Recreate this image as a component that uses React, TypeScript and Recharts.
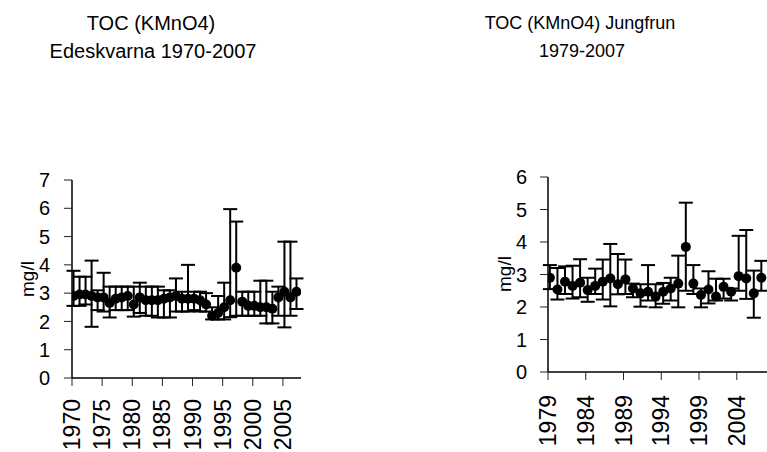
import React from 'react';
import { ScatterChart, Scatter, XAxis, YAxis, ErrorBar } from 'recharts';

const FONT = '"Liberation Sans", Arial, sans-serif';

// Left chart: Edeskvarna 1970-2007
const leftYears = [
  1970, 1971, 1972, 1973, 1974, 1975, 1976, 1977, 1978, 1979,
  1980, 1981, 1982, 1983, 1984, 1985, 1986, 1987, 1988, 1989,
  1990, 1991, 1992, 1993, 1994, 1995, 1996, 1997, 1998, 1999,
  2000, 2001, 2002, 2003, 2004, 2005, 2006, 2007,
];
const leftMean = [
  2.9, 2.95, 2.95, 2.9, 2.85, 2.85, 2.65, 2.8, 2.85, 2.9,
  2.6, 2.85, 2.75, 2.75, 2.75, 2.8, 2.85, 2.9, 2.8, 2.8,
  2.8, 2.75, 2.6, 2.2, 2.3, 2.5, 2.75, 3.9, 2.7, 2.55,
  2.55, 2.5, 2.5, 2.45, 2.85, 3.05, 2.85, 3.05,
];
const leftLow = [
  2.55, 2.55, 2.6, 1.81, 2.4, 2.35, 2.14, 2.4, 2.4, 2.4,
  2.17, 2.3, 2.2, 2.2, 2.14, 2.14, 2.14, 2.35, 2.35, 2.35,
  2.4, 2.35, 2.35, 2.07, 2.07, 2.07, 2.15, 2.2, 2.2, 2.2,
  2.2, 2.2, 1.93, 1.93, 2.2, 1.79, 2.2, 2.44,
];
const leftHigh = [
  3.79, 3.58, 3.58, 4.15, 3.1, 3.72, 3.23, 3.23, 3.23, 3.23,
  3.23, 3.37, 3.23, 3.23, 3.23, 3.1, 3.1, 3.52, 3.05, 4.0,
  3.05, 3.05, 3.0, 2.5, 2.9, 3.37, 5.97, 5.53, 3.05, 3.05,
  3.05, 3.44, 3.44, 3.05, 3.23, 4.82, 4.82, 3.52,
];
const leftXTicks = [1970, 1975, 1980, 1985, 1990, 1995, 2000, 2005];
const leftYTicks = [0, 1, 2, 3, 4, 5, 6, 7];

// Right chart: Jungfrun 1979-2007
const rightYears = [
  1979, 1980, 1981, 1982, 1983, 1984, 1985, 1986, 1987, 1988,
  1989, 1990, 1991, 1992, 1993, 1994, 1995, 1996, 1997, 1998,
  1999, 2000, 2001, 2002, 2003, 2004, 2005, 2006, 2007,
];
const rightMean = [
  2.9, 2.54, 2.78, 2.65, 2.75, 2.52, 2.65, 2.78, 2.88, 2.7,
  2.85, 2.57, 2.42, 2.47, 2.32, 2.47, 2.57, 2.72, 3.85, 2.72,
  2.37, 2.54, 2.32, 2.62, 2.47, 2.95, 2.88, 2.42, 2.9,
];
const rightLow = [
  2.55, 2.23, 2.4, 2.26, 2.3, 2.16, 2.4, 2.23, 2.02, 2.39,
  2.4, 2.3, 2.01, 2.2, 1.99, 2.1, 2.2, 1.99, 2.5, 2.4,
  1.99, 2.11, 2.2, 2.26, 2.2, 2.5, 2.25, 1.67, 2.5,
];
const rightHigh = [
  3.29, 3.2, 3.25, 3.27, 3.47, 2.9, 3.18, 3.46, 3.94, 3.63,
  3.46, 2.72, 2.7, 3.29, 2.7, 2.74, 2.9, 3.58, 5.21, 3.29,
  2.57, 3.1, 2.87, 2.87, 2.57, 4.19, 4.37, 3.12, 3.42,
];
const rightXTicks = [1979, 1984, 1989, 1994, 1999, 2004];
const rightYTicks = [0, 1, 2, 3, 4, 5, 6];

const buildRows = (years: number[], mean: number[], low: number[], high: number[]) =>
  years.map((yr, i) => ({
    x: yr + 0.25,
    y: mean[i],
    err: [mean[i] - low[i], high[i] - mean[i]],
  }));

const leftRows = buildRows(leftYears, leftMean, leftLow, leftHigh);
const rightRows = buildRows(rightYears, rightMean, rightLow, rightHigh);

const Dot = (props: any) => <circle cx={props.cx} cy={props.cy} r={5} fill="#000" />;

const XTick = (props: any) => {
  const { x, y, payload } = props;
  return (
    <text
      x={0}
      y={0}
      transform={`translate(${x},${y}) rotate(-90)`}
      textAnchor="end"
      dominantBaseline="central"
      fontSize={23}
      fontFamily={FONT}
      fill="#000"
    >
      {payload.value}
    </text>
  );
};

const axisLine = { stroke: '#000', strokeWidth: 1.5 };
const tickLine = { stroke: '#222', strokeWidth: 1 };
const yTickStyle = { fontSize: 20, fill: '#000', fontFamily: FONT };

const Title = ({ text, cx, cy, size }: { text: string; cx: number; cy: number; size: number }) => (
  <div
    style={{
      position: 'absolute',
      left: cx - 200,
      top: cy - 12,
      width: 400,
      textAlign: 'center',
      fontFamily: FONT,
      fontSize: size,
      lineHeight: '24px',
      color: '#000',
      whiteSpace: 'nowrap',
    }}
  >
    {text}
  </div>
);

const YLabel = ({ cx, cy }: { cx: number; cy: number }) => (
  <div
    style={{
      position: 'absolute',
      left: cx - 40,
      top: cy - 11,
      width: 80,
      lineHeight: '22px',
      textAlign: 'center',
      fontFamily: FONT,
      fontSize: 19,
      color: '#000',
      transform: 'rotate(-90deg)',
    }}
  >
    mg/l
  </div>
);

export default function App() {
  return (
    <div
      style={{
        position: 'absolute',
        left: 0,
        top: 0,
        width: 767,
        height: 452,
        overflow: 'hidden',
        background: '#fff',
      }}
    >
      <Title text="TOC (KMnO4)" cx={151} cy={23} size={20} />
      <Title text="Edeskvarna 1970-2007" cx={153} cy={51} size={20} />
      <Title text="TOC (KMnO4) Jungfrun" cx={580} cy={23} size={18} />
      <Title text="1979-2007" cx={582} cy={51} size={18} />

      <div style={{ position: 'absolute', left: 0, top: 0 }}>
        <ScatterChart width={320} height={452} margin={{ top: 180, right: 19, bottom: 0, left: 0 }}>
          <XAxis
            type="number"
            dataKey="x"
            domain={[1970, 2008]}
            ticks={leftXTicks}
            allowDataOverflow
            height={74}
            tickSize={8}
            tickMargin={13}
            axisLine={axisLine}
            tickLine={tickLine}
            tick={<XTick />}
            interval={0}
          />
          <YAxis
            type="number"
            dataKey="y"
            domain={[0, 7]}
            ticks={leftYTicks}
            allowDataOverflow
            width={72}
            tickSize={8}
            tickMargin={14}
            axisLine={axisLine}
            tickLine={tickLine}
            tick={yTickStyle}
            interval={0}
          />
          <Scatter data={leftRows} dataKey="y" shape={<Dot />} isAnimationActive={false}>
            <ErrorBar dataKey="err" direction="y" width={7} stroke="#000" strokeWidth={2} />
          </Scatter>
        </ScatterChart>
      </div>

      <div style={{ position: 'absolute', left: 461, top: 0 }}>
        <ScatterChart width={306} height={452} margin={{ top: 177, right: 0, bottom: 0, left: 0 }}>
          <XAxis
            type="number"
            dataKey="x"
            domain={[1979, 2008]}
            ticks={rightXTicks}
            allowDataOverflow
            height={80}
            tickSize={8}
            tickMargin={15}
            axisLine={axisLine}
            tickLine={tickLine}
            tick={<XTick />}
            interval={0}
          />
          <YAxis
            type="number"
            dataKey="y"
            domain={[0, 6]}
            ticks={rightYTicks}
            allowDataOverflow
            width={87}
            tickSize={8}
            tickMargin={13}
            axisLine={axisLine}
            tickLine={tickLine}
            tick={yTickStyle}
            interval={0}
          />
          <Scatter data={rightRows} dataKey="y" shape={<Dot />} isAnimationActive={false}>
            <ErrorBar dataKey="err" direction="y" width={7} stroke="#000" strokeWidth={2} />
          </Scatter>
        </ScatterChart>
      </div>

      <YLabel cx={28} cy={279} />
      <YLabel cx={505} cy={274} />
    </div>
  );
}
